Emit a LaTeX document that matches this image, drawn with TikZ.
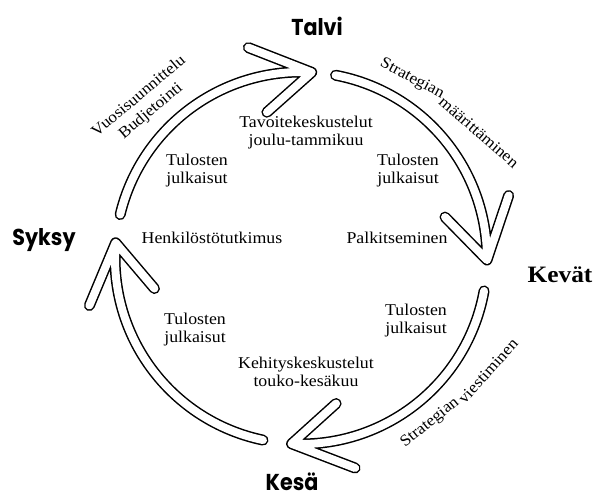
\documentclass[tikz,border=0pt]{standalone}
\usepackage{fontspec}
\setmainfont{Liberation Serif}[FakeStretch=1.08]
\newfontfamily\seasonfont{Poppins}[FakeStretch=0.9]
\usetikzlibrary{calc}

\begin{document}
\begin{tikzpicture}[x=1pt,y=1pt,
  bandout/.style={draw=black,line width=11pt,line cap=round,line join=round},
  bandin/.style={draw=white,line width=8pt,line cap=round,line join=round},
  inner/.style={font=\fontsize{16.5}{18}\selectfont,align=center,inner sep=0pt},
  season/.style={font=\seasonfont\bfseries\fontsize{23}{26}\selectfont,inner sep=0pt,anchor=base},
  seasonserif/.style={font=\bfseries\fontsize{23.5}{26}\selectfont,inner sep=0pt,anchor=base},
  ringlabel/.style={font=\fontsize{16}{19}\selectfont,align=center,inner sep=0pt}
]
\useasboundingbox[fill=white] (0,0) rectangle (597,-496);

\coordinate (C) at (301,-258);
\def\R{186}

% one segment of the ring: shaft along the circle plus an open chevron head
% #1 name, #2 tail angle, #3 tip angle (clockwise, so #2 > #3)
\newcommand\ringarrow[3]{%
  \coordinate (#1-tail) at ($(C)+(#2:\R)$);
  \coordinate (#1-tip)  at ($(C)+(#3:\R)$);
  \coordinate (#1-out)  at ($(#1-tip)+(#3+72:68)$);
  \coordinate (#1-in)   at ($(#1-tip)+(#3+135:60)$);
  \draw[bandout] (#1-tail) arc[start angle=#2,end angle=#3,radius=\R]
                 (#1-out) -- (#1-tip) -- (#1-in);
  \draw[bandin]  (#1-tail) arc[start angle=#2,end angle=#3,radius=\R]
                 (#1-out) -- (#1-tip) -- (#1-in);
}

\ringarrow{winter}{166.5}{86.7}
\ringarrow{spring}{79.3}{-0.6}
\ringarrow{summer}{-10.2}{-92.9}
\ringarrow{autumn}{-101.8}{-184.7}

% seasons
\node[season] (talvi) at (317,-35) {Talvi};
\node[seasonserif] (kevat) at (560,-282) {Kevät};
\node[season] (kesa) at (292,-490) {Kesä};
\node[season] (syksy) at (44,-245) {Syksy};

% texts inside the ring
\node[inner] (tavoite) at (306,-133) {Tavoitekeskustelut\\joulu-tammikuu};
\node[inner] (tulos-nw) at (197,-171) {Tulosten\\julkaisut};
\node[inner] (tulos-ne) at (408,-171) {Tulosten\\julkaisut};
\node[inner] (henk) at (212,-238) {Henkilöstötutkimus};
\node[inner] (palk) at (397,-238) {Palkitseminen};
\node[inner] (tulos-se) at (416,-321) {Tulosten\\julkaisut};
\node[inner] (tulos-sw) at (195,-330) {Tulosten\\julkaisut};
\node[inner] (kehitys) at (306,-372) {Kehityskeskustelut\\touko-kesäkuu};

% texts outside the ring, following its curve word by word
\node[ringlabel,rotate=40] (vuosi) at (145,-104) {Vuosisuunnittelu\\Budjetointi};
\node[ringlabel,rotate=-28] (strat-a) at (412,-79) {Strategian};
\node[ringlabel,rotate=-41] (maar) at (479,-132) {määrittäminen};
\node[ringlabel,rotate=39] (strat-b) at (430,-423) {Strategian};
\node[ringlabel,rotate=48] (viest) at (488,-371) {viestiminen};
\end{tikzpicture}
\end{document}
